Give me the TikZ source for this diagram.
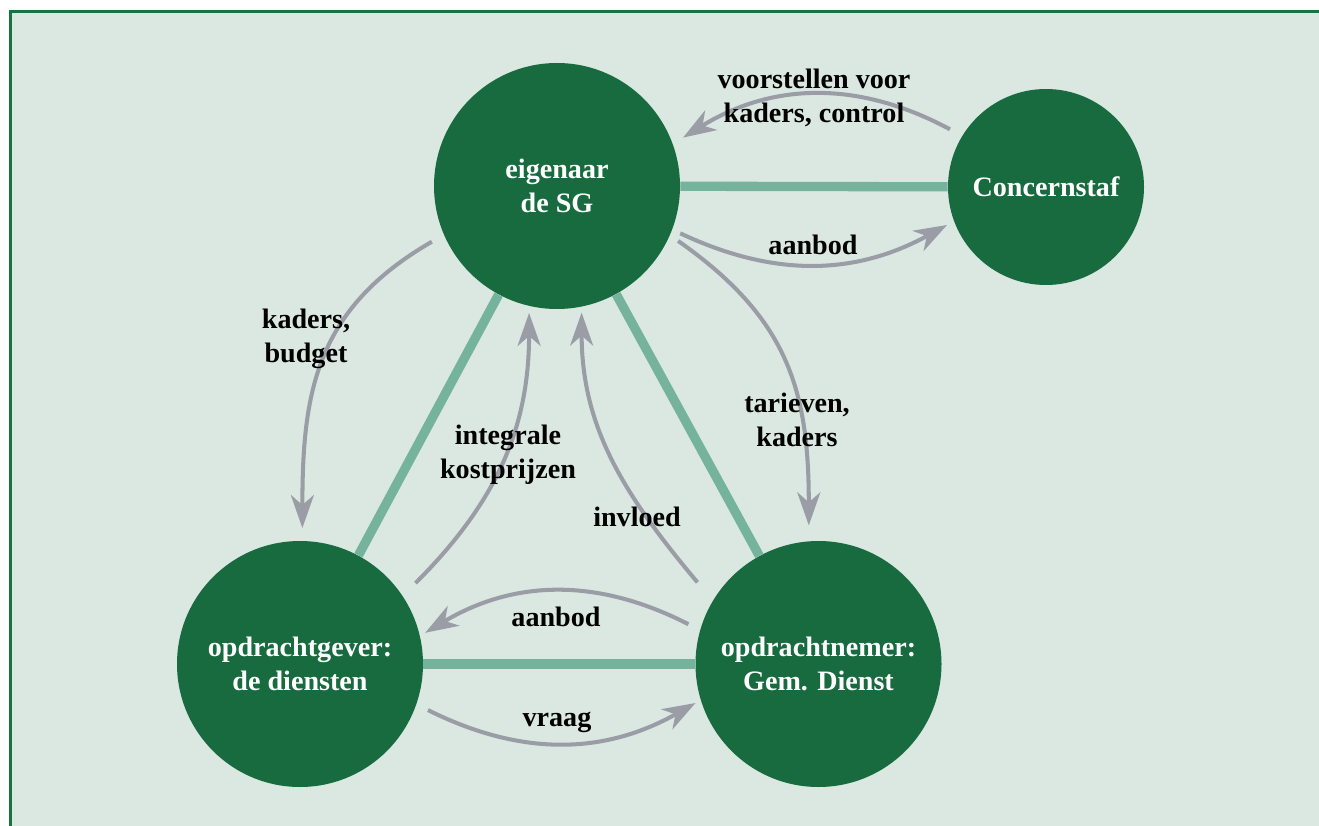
\documentclass[tikz,border=0pt]{standalone}
\usepackage{fontspec}
\setmainfont{Liberation Serif}
\usetikzlibrary{arrows.meta}
\definecolor{bggreen}{RGB}{218,232,225}
\definecolor{framegreen}{RGB}{22,116,66}
\definecolor{darkgreen}{RGB}{24,107,63}
\definecolor{linkgreen}{RGB}{118,179,157}
\definecolor{flowgray}{RGB}{154,157,165}
\tikzset{
  party/.style={circle, fill=darkgreen, text=white, inner sep=0pt, align=center,
    font=\fontsize{16}{19.3}\selectfont\bfseries},
  link/.style={linkgreen, line width=5.3pt},
  flow/.style={flowgray, line width=2.3pt,
    -{Stealth[length=0.66cm, width=0.46cm, inset=0.2cm]}},
  flowlabel/.style={align=center, font=\fontsize{16}{19.3}\selectfont\bfseries}
}

\begin{document}
\begin{tikzpicture}
  \useasboundingbox (0,0) rectangle (26.38,16.5);
  \fill [bggreen] (0.21,-0.5) rectangle (27,16.27);
  \draw [framegreen, line width=1.7pt] (0.21,-0.5) -- (0.21,16.27) -- (27,16.27);
  \node [party, minimum size=4.92cm] (sg) at (11.14,12.78) {eigenaar\\de SG};
  \node [party, minimum size=3.92cm] (staf) at (20.92,12.76) {Concernstaf};
  \node [party, minimum size=4.92cm] (gever) at (6.0,3.22) {opdrachtgever:\\de diensten};
  \node [party, minimum size=4.92cm] (nemer) at (16.37,3.22) {opdrachtnemer:\\Gem. Dienst};
  \draw [link] (sg) -- (staf);
  \draw [link] (sg) -- (gever);
  \draw [link] (sg) -- (nemer);
  \draw [link] (gever) -- (nemer);
  % flows between the parties
  \draw [flow] ([shift={(149:2.24)}]staf.center) to [bend right=30] ([shift={(21:2.7)}]sg.center);
  \draw [flow] ([shift={(-21:2.64)}]sg.center) to [bend right=27] ([shift={(201:2.12)}]staf.center);
  \draw [flow] ([shift={(204:2.74)}]sg.center) to [out=210, in=90, looseness=1.1] ([shift={(89:2.72)}]gever.center);
  \draw [flow] ([shift={(-24.4:2.66)}]sg.center) to [out=-35, in=90, looseness=1.1] ([shift={(94:2.78)}]nemer.center);
  \draw [flow] ([shift={(35:2.82)}]gever.center) to [out=45, in=-90] ([shift={(257.6:2.6)}]sg.center);
  \draw [flow] ([shift={(146:2.92)}]nemer.center) to [out=130, in=-90] ([shift={(281:2.58)}]sg.center);
  \draw [flow] ([shift={(163:2.72)}]nemer.center) to [bend right=29] ([shift={(14:2.58)}]gever.center);
  \draw [flow] ([shift={(-19.8:2.72)}]gever.center) to [bend right=28] ([shift={(197.6:2.58)}]nemer.center);
  \node [flowlabel] (voorstel) at (16.28,14.54) {voorstellen voor\\kaders, control};
  \node [flowlabel] (aanbodtop) at (16.26,11.6) {aanbod};
  \node [flowlabel] (kaders) at (6.12,9.72) {kaders,\\budget};
  \node [flowlabel] (tarieven) at (15.94,8.1) {tarieven,\\kaders};
  \node [flowlabel] (kostprijs) at (10.16,7.4) {integrale\\kostprijzen};
  \node [flowlabel] (invloed) at (12.74,6.16) {invloed};
  \node [flowlabel] (aanbodlow) at (11.12,4.16) {aanbod};
  \node [flowlabel] (vraag) at (11.14,2.06) {vraag};
\end{tikzpicture}
\end{document}
